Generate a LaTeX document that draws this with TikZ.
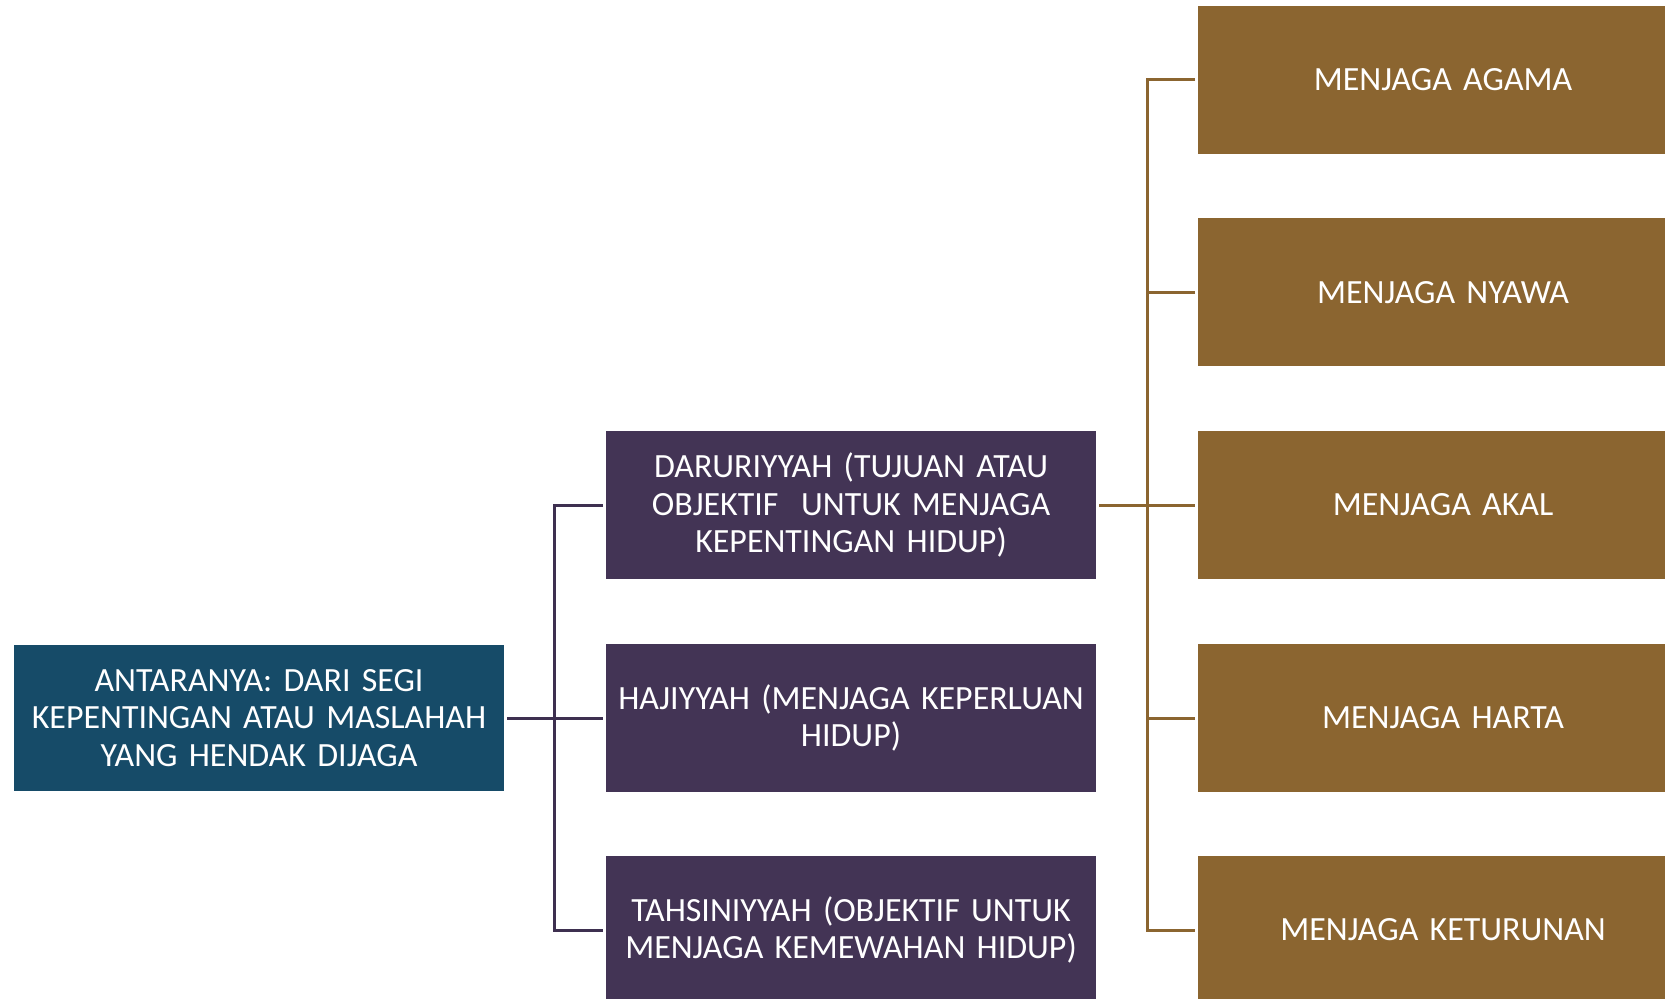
\documentclass[tikz,border=0pt]{standalone}
\usepackage{fontspec}
\setmainfont{Carlito}
\usepackage{tikz}
\usetikzlibrary{calc}
\definecolor{myteal}{RGB}{22,75,104}
\definecolor{mypurple}{RGB}{67,52,85}
\definecolor{mybrown}{RGB}{139,101,48}
\definecolor{mypurpleline}{RGB}{62,48,80}
\tikzstyle{teal} = [draw=none,outer sep=0.06cm,inner sep=0,
    minimum width=9.8cm, minimum height=2.92cm, fill=myteal,
    text=white, text width=9.5cm, align=center,
    font=\fontsize{19.3}{21.5}\selectfont]
\tikzstyle{purple} = [draw=none,outer sep=0.06cm,inner sep=0,
    minimum width=9.8cm, minimum height=2.96cm, fill=mypurple,
    text=white, text width=9.5cm, align=center,
    font=\fontsize{19.3}{21.5}\selectfont]
\tikzstyle{brown} = [draw=none,outer sep=0.06cm,inner sep=0,
    minimum width=9.8cm, minimum height=2.96cm, fill=mybrown,
    text=white, text width=9.5cm, align=center,
    font=\fontsize{19.3}{21.5}\selectfont]
\tikzstyle{plink} = [draw=mypurpleline, line width=0.06cm]
\tikzstyle{blink} = [draw=mybrown, line width=0.06cm]
\begin{document}
\begin{tikzpicture}

    \useasboundingbox (0,0) rectangle (33.3,19.96);
    \clip (0,0) rectangle (33.3,19.96);

    % 1. Place the root
    \node[teal] (root) at (5.18,5.6) {ANTARANYA: DARI SEGI\\ KEPENTINGAN ATAU MASLAHAH\\ YANG HENDAK DIJAGA};

%%% LEVEL 1
\node[purple] (daru) at (17.02,9.86) {DARURIYYAH (TUJUAN ATAU\\ OBJEKTIF\ \ UNTUK MENJAGA\\ KEPENTINGAN HIDUP)};
\node[purple] (haji) at (17.02,5.6) {HAJIYYAH (MENJAGA KEPERLUAN\\ HIDUP)};
\node[purple] (tahsin) at (17.02,1.36) {TAHSINIYYAH (OBJEKTIF UNTUK\\ MENJAGA KEMEWAHAN HIDUP)};

%%% LEVEL 2
\node[brown] (agama) at (28.86,18.36) {MENJAGA AGAMA};
\node[brown] (nyawa) at (28.86,14.11) {MENJAGA NYAWA};
\node[brown] (akal) at (28.86,9.86) {MENJAGA AKAL};
\node[brown] (harta) at (28.86,5.6) {MENJAGA HARTA};
\node[brown] (keturunan) at (28.86,1.36) {MENJAGA KETURUNAN};

% trunks
\coordinate (ltrunk) at (11.08,0);
\coordinate (rtrunk) at (22.94,0);

% root to level 1
\draw[plink] (root.east) -- (haji.west);
\draw[plink] (daru.west) -- (daru.west -| ltrunk) -- (tahsin.west -| ltrunk) -- (tahsin.west);

% daru to level 2
\draw[blink] (daru.east) -- (akal.west);
\draw[blink] (agama.west) -- (agama.west -| rtrunk) -- (keturunan.west -| rtrunk) -- (keturunan.west);
\draw[blink] (nyawa.west) -- (nyawa.west -| rtrunk);
\draw[blink] (harta.west) -- (harta.west -| rtrunk);

\end{tikzpicture}
\end{document}
